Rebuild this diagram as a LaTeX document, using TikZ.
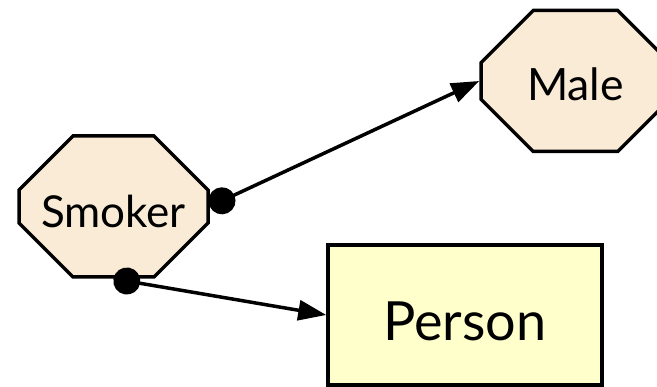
\documentclass[tikz,border=0pt]{standalone}
\usepackage{fontspec}
\setmainfont{Lato}
\usepackage{xcolor}
\usetikzlibrary{arrows.meta, shapes.misc}
\definecolor{classfill}{RGB}{250,235,215}
\definecolor{entityfill}{RGB}{255,255,204}

\begin{document}
\begin{tikzpicture}[
  x=1pt, y=-1pt,
  octo/.style={chamfered rectangle, draw, line width=3.5pt, fill=classfill,
               chamfered rectangle xsep=33pt, chamfered rectangle ysep=33pt,
               minimum width=189pt, minimum height=141pt, inner sep=0pt,
               text depth=0pt},
  entity/.style={rectangle, draw, line width=3.5pt, fill=entityfill,
                 minimum width=274pt, minimum height=140pt, inner sep=0pt,
                 text depth=0pt},
  link/.style={{Circle[length=27pt]}-{Triangle[length=28pt, width=20pt]},
               line width=3.5pt},
]
\useasboundingbox (0,0) rectangle (657,387);

% Nodes
\node[octo, text height=42pt, font=\fontsize{44}{52}\selectfont]     at (113.5, 206.5) (smoker) {Smoker};
\node[octo, text height=38.5pt, font=\fontsize{44.5}{53}\selectfont] at (575.5, 81)    (male)   {Male};
\node[entity, text height=51pt, font=\fontsize{54}{64}\selectfont]   at (465, 315)     (person) {Person};

% Links
\draw[link] (smoker.east)  -- (male.west);
\draw[link] (smoker.south) -- (person.west);
\end{tikzpicture}
\end{document}
